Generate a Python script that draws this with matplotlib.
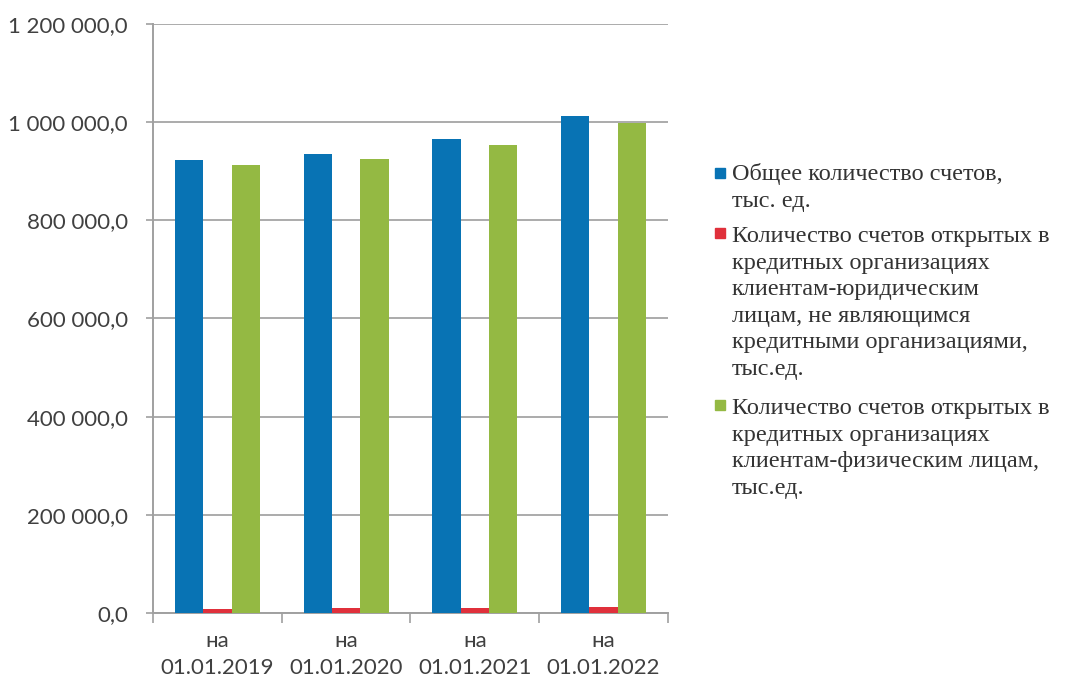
import numpy as np
import matplotlib.pyplot as plt
from matplotlib.patches import Rectangle
from matplotlib.ticker import FuncFormatter

categories = ["на\n01.01.2019", "на\n01.01.2020", "на\n01.01.2021", "на\n01.01.2022"]
total = [922600, 936000, 964700, 1012000]
legal = [8000, 9500, 10500, 12500]
physical = [912400, 924000, 953000, 998500]
series_names = [
    "Общее количество счетов,\nтыс. ед.",
    "Количество счетов открытых в\nкредитных организациях\nклиентам-юридическим\nлицам, не являющимся\nкредитными организациями,\nтыс.ед.",
    "Количество счетов открытых в\nкредитных организациях\nклиентам-физическим лицам,\nтыс.ед.",
]
colors = ["#0873B4", "#E0303B", "#94B943"]
yticks = [0, 200000, 400000, 600000, 800000, 1000000, 1200000]

fig = plt.figure(figsize=(10.67, 6.83), dpi=100)
ax = fig.add_axes([0.1434, 0.1025, 0.4826, 0.8624])

x = np.arange(len(categories)) + 0.5
w = 0.22
for k, vals in enumerate([total, legal, physical]):
    ax.bar(x + (k - 1) * w, vals, w, color=colors[k], zorder=3)

ax.set_xlim(0, len(categories))
ax.set_ylim(0, 1200000)
ax.set_yticks(yticks)
ax.yaxis.set_major_formatter(FuncFormatter(
    lambda v, p: "{:,.1f}".format(v).replace(",", " ").replace(".", ",")))
ax.grid(axis="y", color="#ABABAB", linewidth=1.4, zorder=0)

ax.set_xticks(np.arange(len(categories) + 1))
ax.set_xticklabels([])
ax.set_xticks(x, minor=True)
ax.set_xticklabels(categories, minor=True)
ax.tick_params(axis="x", which="minor", length=0, pad=13)
ax.tick_params(axis="x", which="major", length=7, color="#A0A0A0", width=1.2)
ax.tick_params(axis="y", length=5, color="#A0A0A0", width=1.2, pad=13)
for lab in ax.get_yticklabels() + ax.get_xticklabels(minor=True):
    lab.set_fontfamily("Lato")
    lab.set_fontsize(16)
    lab.set_color("#404040")
for lab in ax.get_xticklabels(minor=True):
    lab.set_linespacing(1.45)

for s in ["top", "right"]:
    ax.spines[s].set_visible(False)
for s in ["left", "bottom"]:
    ax.spines[s].set_color("#A0A0A0")
    ax.spines[s].set_linewidth(1.4)

# legend drawn by hand so markers sit at the first line of each label
W, H = 1067, 683
tops = [163, 226, 398]
marks = [173, 233, 405]
for name, c, t, m in zip(series_names, colors, tops, marks):
    fig.patches.append(Rectangle((715 / W, 1 - (m + 5) / H), 10 / W, 10 / H,
                                 transform=fig.transFigure, color=c))
    fig.text(732 / W, 1 - t / H, name, ha="left", va="top",
             fontfamily="Liberation Serif", fontsize=17.5, color="#333333",
             linespacing=1.35)

fig.savefig("out.png", dpi=100)
